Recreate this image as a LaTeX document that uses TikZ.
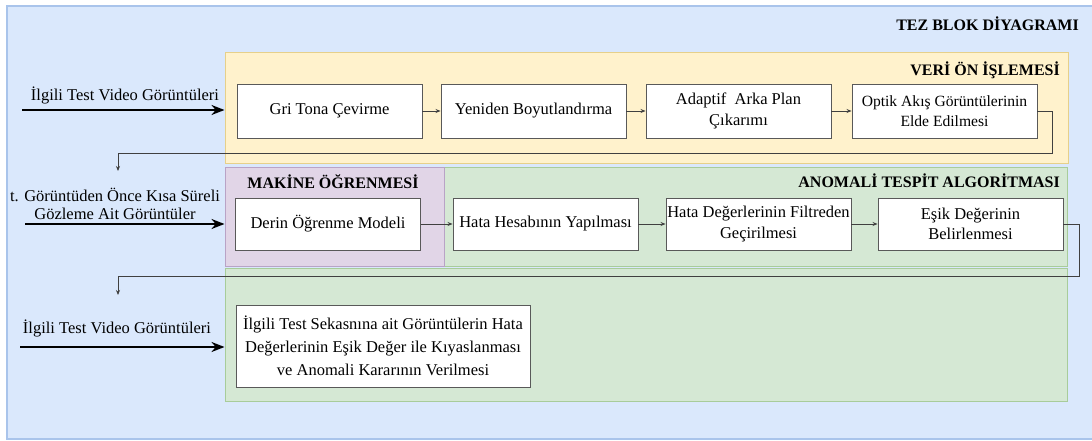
\documentclass[tikz,border=0pt]{standalone}
\usepackage{fontspec}
\setmainfont{Liberation Serif}
\usetikzlibrary{arrows.meta,positioning}
\definecolor{tezblue}{HTML}{DAE8FC}
\definecolor{tezbluedraw}{HTML}{A9C4EB}
\definecolor{onyellow}{HTML}{FFF2CC}
\definecolor{onyellowdraw}{HTML}{E6D08A}
\definecolor{mlpurple}{HTML}{E1D5E7}
\definecolor{mlpurpledraw}{HTML}{B9A3C6}
\definecolor{angreen}{HTML}{D5E8D4}
\definecolor{angreendraw}{HTML}{A8CC9A}
\newcommand{\BodyFont}{\fontsize{16.5}{20.5}\selectfont}
\newcommand{\SmallBodyFont}{\fontsize{15.6}{20}\selectfont}
\newcommand{\TitleFont}{\fontsize{16}{18}\selectfont\bfseries}

\begin{document}
\begin{tikzpicture}[
    x=1pt, y=-1pt,
    group/.style={draw, line width=1pt, inner sep=0pt},
    stage/.style={draw=black!65, fill=white, line width=0.9pt, align=center,
        minimum width=185pt, inner sep=1pt, font=\BodyFont},
    title/.style={font=\TitleFont, inner sep=0pt},
    inlabel/.style={font=\BodyFont, align=center, inner sep=0pt},
    link/.style={draw=black!75, line width=0.8pt, -{Stealth[length=5pt,width=4pt]}},
    feed/.style={line width=2.6pt, -{Stealth[length=13pt,width=10pt]}}
]

\useasboundingbox (0,0) rectangle (1092,441);

% Containers
\draw[fill=tezblue, draw=tezbluedraw, line width=1.2pt] (7,6) rectangle (1096,439);
\node[group, fill=onyellow, draw=onyellowdraw, minimum width=843pt, minimum height=110pt] (onisleme) at (646.5,108) {};
\node[group, fill=angreen, draw=angreendraw, minimum width=623pt, minimum height=99pt] (anomali) at (755.5,216.5) {};
\node[group, fill=mlpurple, draw=mlpurpledraw, minimum width=219pt, minimum height=99pt] (makine) at (334.5,216.5) {};
\node[group, fill=angreen, draw=angreendraw, minimum width=842pt, minimum height=133pt] (karar) at (646,334.5) {};

% Titles
\node[title, anchor=east] (tezbaslik) at (1079,24) {TEZ BLOK DİYAGRAMI};
\node[title, anchor=east] (onbaslik) at (1060,70) {VERİ ÖN İŞLEMESİ};
\node[title, anchor=east] (anbaslik) at (1060,181) {ANOMALİ TESPİT ALGORİTMASI};
\node[title] (mlbaslik) at (333,182) {MAKİNE ÖĞRENMESİ};

% Row 1: preprocessing
\node[stage, minimum height=54pt] (gri) at (329.5,111) {Gri Tona Çevirme};
\node[stage, minimum height=54pt] (boyut) at (533.5,111) {Yeniden Boyutlandırma};
\node[stage, minimum height=54pt] (arka) at (738.5,111) {Adaptif\ \ Arka Plan\\Çıkarımı};
\node[stage, minimum height=54pt, font=\SmallBodyFont] (optik) at (944.5,111) {Optik Akış Görüntülerinin\\Elde Edilmesi};

\draw[link] (gri) -- (boyut);
\draw[link] (boyut) -- (arka);
\draw[link] (arka) -- (optik);

% Row 2: model and anomaly
\node[stage, minimum height=52pt] (derin) at (328,224) {Derin Öğrenme Modeli};
\node[stage, minimum height=52pt] (hatahes) at (545.5,224) {Hata Hesabının Yapılması};
\node[stage, minimum height=52pt] (filtre) at (758.5,224) {Hata Değerlerinin Filtreden\\Geçirilmesi};
\node[stage, minimum height=52pt] (esik) at (970.5,224) {Eşik Değerinin\\Belirlenmesi};

\draw[link] (derin) -- (hatahes);
\draw[link] (hatahes) -- (filtre);
\draw[link] (filtre) -- (esik);

% Row 3: decision
\node[stage, minimum width=294pt, minimum height=82pt, font=\fontsize{16.5}{23}\selectfont] (kiyas) at (383,346)
    {İlgili Test Sekasnına ait Görüntülerin Hata\\Değerlerinin Eşik Değer ile Kıyaslanması\\ve Anomali Kararının Verilmesi};

% Loop-back connectors
\coordinate (don1) at (118,171);
\coordinate (don2) at (118,295);
\draw[link] (optik.east) -- ++(15,0) -- ++(0,42) -| (don1);
\draw[link] (esik.east) -- ++(16,0) -- ++(0,52) -| (don2);

% Inputs
\node[inlabel] (giris1) at (125,95) {İlgili Test Video Görüntüleri};
\node[inlabel, font=\fontsize{16.5}{18.5}\selectfont] (giris2) at (115,204) {t. Görüntüden Önce Kısa Süreli\\Gözleme Ait Görüntüler};
\node[inlabel] (giris3) at (117,328) {İlgili Test Video Görüntüleri};
\coordinate (kaynak1) at (22,110);
\coordinate (kaynak2) at (25,224);
\coordinate (kaynak3) at (20,347);
\draw[feed] (kaynak1) -- (kaynak1 -| onisleme.west);
\draw[feed] (kaynak2) -- (kaynak2 -| makine.west);
\draw[feed] (kaynak3) -- (kaynak3 -| karar.west);

\end{tikzpicture}
\end{document}
